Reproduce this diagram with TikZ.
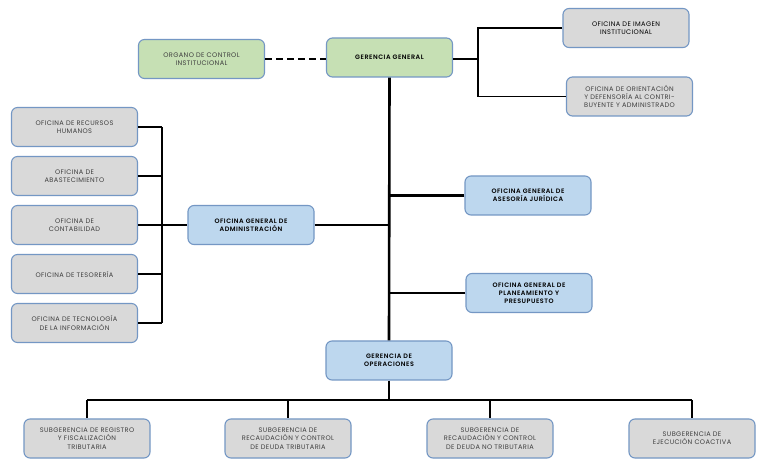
\documentclass[tikz,border=0pt]{standalone}
\usepackage{fontspec}
\setmainfont{Poppins}
\newfontfamily\boxfont[LetterSpace=6]{Poppins}
\newfontfamily\boldboxfont[LetterSpace=8]{Poppins SemiBold}
\definecolor{gfill}{HTML}{C6E0B4}
\definecolor{bfill}{HTML}{BDD7EE}
\definecolor{afill}{HTML}{D9D9D9}
\definecolor{bord}{HTML}{7497C4}
\definecolor{txt}{HTML}{404040}
\begin{document}
\begin{tikzpicture}[x=1pt,y=-1pt,
  base/.style={draw=bord,line width=1.1pt,rounded corners=6pt,minimum width=126pt,minimum height=39pt,align=center,inner sep=1pt,font=\boxfont\fontsize{6.6}{8.2}\selectfont,text=txt},
  greybox/.style={base,fill=afill},
  greenbox/.style={base,fill=gfill,text=black},
  bluebox/.style={base,fill=bfill,text=black,font=\boldboxfont\fontsize{6.4}{8.2}\selectfont},
  gbold/.style={greenbox,font=\boldboxfont\fontsize{6.4}{8.2}\selectfont},
  thin/.style={line width=1.1pt},
  thick/.style={line width=2.6pt}]
\useasboundingbox (0,0) rectangle (769,470);
\fill[white] (0,0) rectangle (769,470);
% nodes
\node[greenbox,text=txt] (oci) at (201.5,59) {ORGANO DE CONTROL\\INSTITUCIONAL};
\node[gbold] (gg) at (389.5,57.5) {GERENCIA GENERAL};
\node[greybox,text=black] (img) at (626,28) {OFICINA DE IMAGEN\\INSTITUCIONAL};
\node[greybox] (ori) at (629.5,96.5) {OFICINA DE ORIENTACIÓN\\Y DEFENSORÍA AL CONTRI-\\BUYENTE Y ADMINISTRADO};
\node[greybox] (rh) at (74.5,127) {OFICINA DE RECURSOS\\HUMANOS};
\node[greybox] (ab) at (74.5,176) {OFICINA DE\\ABASTECIMIENTO};
\node[greybox] (co) at (74.5,225) {OFICINA DE\\CONTABILIDAD};
\node[greybox] (te) at (74.5,274) {OFICINA DE TESORERÍA};
\node[greybox] (ti) at (74.5,323) {OFICINA DE TECNOLOGÍA\\DE LA INFORMACIÓN};
\node[bluebox] (adm) at (251,225) {OFICINA GENERAL DE\\ADMINISTRACIÓN};
\node[bluebox] (aj) at (528,195.5) {OFICINA GENERAL DE\\ASESORÍA JURÍDICA};
\node[bluebox] (pp) at (529,293) {OFICINA GENERAL DE\\PLANEAMIENTO Y\\PRESUPUESTO};
\node[bluebox] (gop) at (389,360.5) {GERENCIA DE\\OPERACIONES};
\node[greybox] (s1) at (87,438.5) {SUBGERENCIA DE REGISTRO\\Y FISCALIZACIÓN\\TRIBUTARIA};
\node[greybox] (s2) at (288,438.5) {SUBGERENCIA DE\\RECAUDACIÓN Y CONTROL\\DE DEUDA TRIBUTARIA};
\node[greybox] (s3) at (490,438.5) {SUBGERENCIA DE\\RECAUDACIÓN Y CONTROL\\DE DEUDA NO TRIBUTARIA};
\node[greybox] (s4) at (692,438.5) {SUBGERENCIA DE\\EJECUCIÓN COACTIVA};
% coordinates
\coordinate (rb) at (478,59);
\coordinate (lb) at (162,225);
\coordinate (bus) at (389,400);
% connectors
\draw[thin,dashed,dash pattern=on 7pt off 4pt] (oci.east) -- (gg.west |- oci.east);
\draw[thick] (gg.south) -- (gop.north);
\draw[thin] (gg.east |- rb) -- (rb);
\draw[thin] (img.west) -| (rb) |- (ori.west);
\draw[line width=2.2pt] (aj.west) -- (aj.west -| gg.south);
\draw[line width=1.4pt] (pp.west) -- (pp.west -| gg.south);
\draw[line width=1.3pt] (adm.east) -- (adm.east -| gg.south);
\draw[thin] (lb) -- (adm.west);
\foreach \n in {rh,ab,co,te,ti} \draw[thin] (\n.east) -- (\n.east -| lb);
\draw[thin] (rh.east -| lb) -- (ti.east -| lb);
\draw[thin] (gop.south) -- (bus);
\draw[thin] (s1.north |- bus) -- (s4.north |- bus);
\foreach \n in {s1,s2,s3,s4} \draw[thin] (\n.north |- bus) -- (\n.north);
\end{tikzpicture}
\end{document}
